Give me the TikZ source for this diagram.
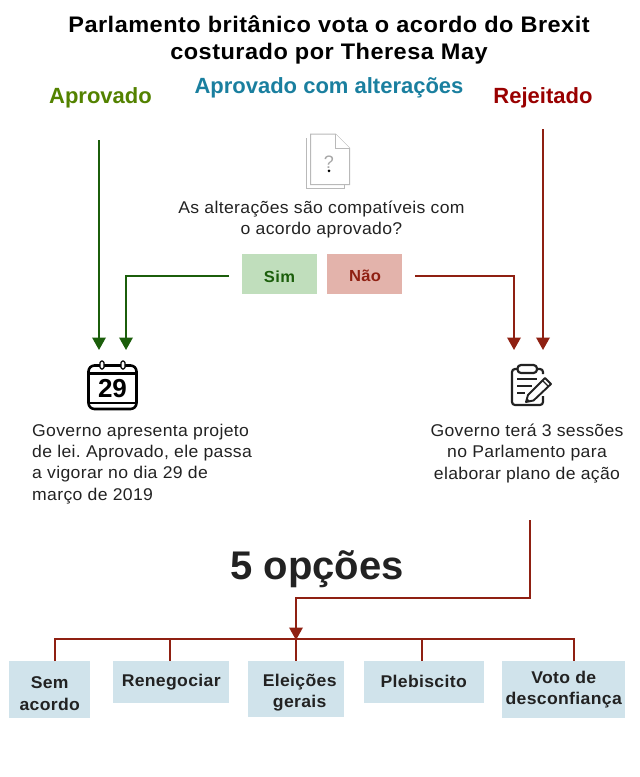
\documentclass[tikz,border=0pt]{standalone}
\usepackage{fontspec}
\setmainfont{Liberation Sans}
\newfontfamily\spc[FakeStretch=1.035,LetterSpace=2]{Liberation Sans}
\newfontfamily\spct[FakeStretch=1.045,LetterSpace=2.2]{Liberation Sans}
\usetikzlibrary{arrows.meta,calc}
\definecolor{dgreen}{HTML}{1B5E0B}
\definecolor{dred}{HTML}{8F2012}
\definecolor{tgreen}{HTML}{538200}
\definecolor{tblue}{HTML}{1A7F9F}
\definecolor{tred}{HTML}{990000}
\definecolor{optbox}{HTML}{D0E3EB}
\definecolor{simbox}{HTML}{C0DEBC}
\definecolor{naobox}{HTML}{E3B3AB}
\definecolor{txt}{HTML}{222222}
\tikzset{
 x=1pt,y=-1pt,
 body/.style={font=\spc\frenchspacing\fontsize{17}{21.4}\selectfont,text=txt,align=left,inner sep=0pt},
 bodyc/.style={body,align=center},
 head/.style={font=\bfseries\fontsize{22}{22}\selectfont,inner sep=0pt},
 opt/.style={fill=optbox,inner sep=0pt,anchor=north west},
 opttxt/.style={inner sep=0pt,align=center,text=txt,font=\spc\bfseries\fontsize{17}{21.4}\selectfont},
 choice/.style={minimum width=75pt,minimum height=40pt,inner sep=0pt},
 choicetxt/.style={inner sep=0pt,font=\spc\bfseries\fontsize{16}{16}\selectfont},
 gline/.style={draw=dgreen,line width=1.9pt},
 rline/.style={draw=dred,line width=1.9pt},
 garrow/.style={gline,-{Triangle[width=13.5pt,length=12.5pt]}},
 rarrow/.style={rline,-{Triangle[width=13.5pt,length=12.5pt]}},
 icon/.style={draw=black,line width=2.6pt,line join=round},
 clipi/.style={draw=txt,line width=2.2pt,line join=round},
 doc/.style={draw=gray!55,line width=1pt,fill=white},
}
\begin{document}
\begin{tikzpicture}
\useasboundingbox (0,0) rectangle (640,777);
% title
\node[font=\spct\bfseries\fontsize{22.5}{27}\selectfont,align=center,text=black,inner sep=0pt] (title) at (329,40) {Parlamento britânico vota o acordo do Brexit\\costurado por Theresa May};
\node[head,text=tgreen] (aprov) at (100.5,98) {Aprovado};
\node[head,text=tblue] (alter) at (329,88) {Aprovado com alterações};
\node[head,text=tred] (rej) at (543,98) {Rejeitado};
% document icon
\draw[doc] (306.5,138) -- (306.5,188.5) -- (344.5,188.5) -- (344.5,184);
\draw[doc] (310.5,134) -- (335.5,134) -- (349.5,148) -- (349.5,184.5) -- (310.5,184.5) -- cycle;
\draw[doc] (335.5,134) -- (335.5,148) -- (349.5,148);
\node[inner sep=0pt,font=\fontsize{18}{18}\selectfont,text=gray!70] (q) at (329,162) {?};
\fill[black] (329,170.8) circle (1.5);
\node[bodyc] (quest) at (321.5,219.5) {As alterações são compatíveis com\\o acordo aprovado?};
\node[choice,fill=simbox] (sim) at (279.5,274) {};
\node[choicetxt,text=dgreen] (simt) at ($(sim)+(0,2.5)$) {Sim};
\node[choice,fill=naobox] (nao) at (364.5,274) {};
\node[choicetxt,text=dred] (naot) at ($(nao)+(0.5,1.5)$) {Não};
% calendar
\node[inner sep=0pt,font=\bfseries\fontsize{26}{26}\selectfont,text=black] (cal) at (112.5,388.5) {29};
\draw[icon,rounded corners=6pt] (88.5,365.5) rectangle (136.5,409);
\draw[icon] (88.5,373.5) -- (136.5,373.5);
\draw[icon,line width=2pt] (88.5,402.5) -- (136.5,402.5);
\draw[icon,fill=white,line width=1.2pt,rounded corners=1.5pt] (100,361) rectangle (104,369);
\draw[icon,fill=white,line width=1.2pt,rounded corners=1.5pt] (121,361) rectangle (125,369);
% clipboard
\coordinate (clip) at (526,385);
\draw[clipi,rounded corners=3pt] (543,374) -- (543,369) -- (512,369) -- (512,405) -- (543,405) -- (543,396);
\draw[clipi,rounded corners=3.5pt,fill=white] (517.5,365) rectangle (537,373);
\draw[clipi] (517,379) -- (537,379) (517,386) -- (532,386) (517,393) -- (525,393);
\draw[clipi,line width=1.9pt,fill=white] (526,402) -- (528,395) -- (545,378) -- (551,384) -- (533.5,400.5) -- cycle;
\draw[clipi,line width=1.3pt] (542.5,380.5) -- (548.5,386.5);
\fill[txt] (526,402) -- (527,398) -- (530,401) -- cycle;
% body texts
\node[body,anchor=north west] (gov) at (32,423.5) {Governo apresenta projeto\\de lei. Aprovado, ele passa\\a vigorar no dia 29 de\\março de 2019};
\node[bodyc,anchor=north] (ses) at (527,423.5) {Governo terá 3 sessões\\no Parlamento para\\elaborar plano de ação};
\node[inner sep=0pt,font=\bfseries\fontsize{40}{40}\selectfont,text=txt] (cinco) at (317,569) {5 opções};
% options
\node[opt,minimum width=81pt,minimum height=57pt] (o1) at (9,661) {};
\node[opttxt] (o1t) at ($(o1)+(0,4)$) {Sem\\acordo};
\node[opt,minimum width=116pt,minimum height=42pt] (o2) at (113,661) {};
\node[opttxt] (o2t) at ($(o2)+(0,0)$) {Renegociar};
\node[opt,minimum width=96pt,minimum height=56pt] (o3) at (248,661) {};
\node[opttxt] (o3t) at ($(o3)+(3.5,3.5)$) {Eleições\\gerais};
\node[opt,minimum width=120pt,minimum height=42pt] (o4) at (364,661) {};
\node[opttxt] (o4t) at ($(o4)+(-0.5,-1)$) {Plebiscito};
\node[opt,minimum width=123pt,minimum height=57pt] (o5) at (502,661) {};
\node[opttxt] (o5t) at (o5) {Voto de\\desconfiança};
% connectors
\coordinate (a1) at (99,140);
\coordinate (a1e) at (99,350);
\draw[garrow] (a1) -- (a1e);
\coordinate (a2) at (229,276);
\coordinate (a2e) at (126,350);
\draw[garrow] (a2) -| (a2e);
\coordinate (r1) at (543,129);
\coordinate (r1e) at (543,350);
\draw[rarrow] (r1) -- (r1e);
\coordinate (r2) at (415,276);
\coordinate (r2e) at (514,350);
\draw[rarrow] (r2) -| (r2e);
\coordinate (c1) at (530,520);
\coordinate (c2) at (296,640);
\draw[rarrow] (c1) -- (530,598) -- (296,598) -- (c2);
\draw[rline] (55,661) -- (55,639) -- (574,639) -- (574,661);
\draw[rline] (170,639) -- (170,661);
\draw[rline] (296,639) -- (296,661);
\draw[rline] (422,639) -- (422,661);
\end{tikzpicture}
\end{document}
